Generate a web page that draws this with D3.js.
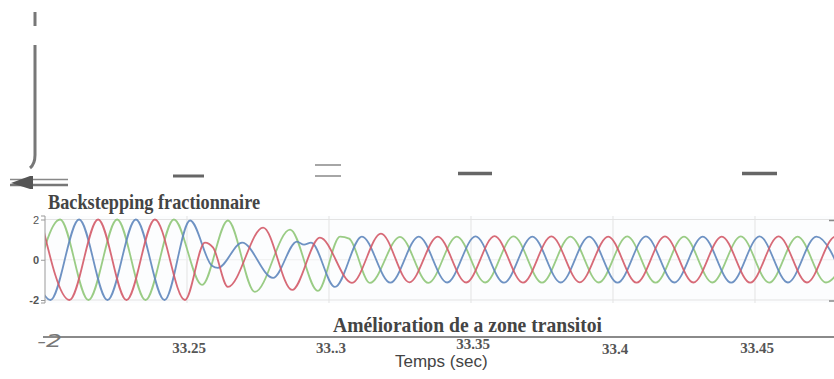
<!DOCTYPE html>
<html>
<head>
<meta charset="utf-8">
<script src="https://cdn.jsdelivr.net/npm/d3@7"></script>
<style>
  body { margin: 0; background: #fff; }
  svg { display: block; }
</style>
</head>
<body>
<svg id="chart" width="834" height="379"></svg>
<script>
// time axis ticks (seconds) and their printed labels, as they appear
var tickValues = [33.25, 33.3, 33.35, 33.4, 33.45]
var tickLabels = ['33.25', '33..3', '33.35', '33.4', '33.45']
var yTicks = [2, 0, -2]
var yTickLabels = ['2', '0', '-2']

// extrema of each phase (time, value)
var redT = [33.1986, 33.2086, 33.2187, 33.2287, 33.2387, 33.2493, 33.2563, 33.2592, 33.2644, 33.2768, 33.2870, 33.2968,
  33.3081, 33.3183, 33.3283, 33.3383, 33.3483, 33.3583, 33.3683, 33.3783, 33.3883, 33.3983, 33.4083, 33.4183,
  33.4283, 33.4383, 33.4483, 33.4583, 33.4683, 33.4783, 33.4883]
var redV = [2.0, -2.0, 2.0, -2.0, 2.0, -2.0, 0.85, 0.6, -1.35, 1.6, -1.5, 1.1,
  -1.15, 1.3, -1.12, 1.15, -1.13, 1.17, -1.14, 1.16, -1.12, 1.15, -1.14, 1.16,
  -1.13, 1.15, -1.14, 1.16, -1.13, 1.15, -1.14]

var greenT = [33.1952, 33.2053, 33.2153, 33.2254, 33.2354, 33.2454, 33.2553, 33.2644, 33.2739, 33.2863, 33.2961, 33.3039,
  33.3071, 33.3144, 33.3250, 33.3350, 33.3450, 33.3550, 33.3650, 33.3750, 33.3850, 33.3950, 33.4050, 33.4150,
  33.4250, 33.4350, 33.4450, 33.4550, 33.4650, 33.4750, 33.4850]
var greenV = [-2.0, 2.0, -2.0, 2.0, -2.0, 2.0, -1.25, 1.95, -1.6, 1.5, -1.55, 1.15,
  1.05, -1.15, 1.14, -1.15, 1.15, -1.13, 1.16, -1.14, 1.15, -1.13, 1.16, -1.14,
  1.15, -1.13, 1.16, -1.14, 1.15, -1.13, 1.15]

var blueT = [33.1919, 33.2019, 33.2120, 33.2220, 33.2320, 33.2421, 33.2511, 33.2588, 33.2609, 33.2694, 33.2803, 33.2887,
  33.2912, 33.2937, 33.3021, 33.3116, 33.3216, 33.3316, 33.3416, 33.3516, 33.3616, 33.3716, 33.3816, 33.3916,
  33.4016, 33.4116, 33.4216, 33.4316, 33.4416, 33.4516, 33.4616, 33.4716, 33.4816]
var blueV = [2.0, -2.0, 2.0, -2.0, 2.0, -2.0, 1.95, -0.3, -0.4, 0.85, -0.9, 0.9,
  0.75, 0.85, -1.35, 1.15, -1.14, 1.15, -1.13, 1.16, -1.14, 1.15, -1.13, 1.15,
  -1.14, 1.16, -1.13, 1.15, -1.14, 1.16, -1.13, 1.15, -1.14]

var series = [
  ['green', greenT, greenV, '#8fc778'],
  ['blue', blueT, blueV, '#5e86bd'],
  ['red', redT, redV, '#d35a68']
]

const plotLeft = 45
const plotRight = 834
const plotTop = 216
const plotBottom = 303

var svg = d3.select('#chart')

var x = d3.scaleLinear().domain([33.2, 33.5]).range([45, 897])
var y = d3.scaleLinear().domain([-2, 2]).range([300, 219.5])

// plot background + grid
svg.append('rect')
  .attr('x', plotLeft).attr('y', plotTop)
  .attr('width', plotRight - plotLeft).attr('height', plotBottom - plotTop)
  .attr('fill', '#fcfdfe')

svg.append('g')
  .selectAll('line')
  .data(tickValues)
  .join('line')
  .attr('x1', d => x(d)).attr('x2', d => x(d))
  .attr('y1', plotTop).attr('y2', plotBottom)
  .attr('stroke', '#e3e3e3')

svg.append('g')
  .selectAll('line')
  .data(yTicks)
  .join('line')
  .attr('x1', plotLeft).attr('x2', plotRight)
  .attr('y1', d => y(d)).attr('y2', d => y(d))
  .attr('stroke', d => d === 0 ? '#eeeeee' : '#e3e3e3')

// signals
svg.append('clipPath').attr('id', 'clip')
  .append('rect')
  .attr('x', plotLeft).attr('y', plotTop - 6)
  .attr('width', plotRight - plotLeft).attr('height', plotBottom - plotTop + 8)

var line = d3.line()
  .x(d => x(d[0]))
  .y(d => y(d[1]))
  .curve(d3.curveMonotoneX)

var lines = svg.append('g').attr('clip-path', 'url(#clip)')
series.forEach(s => {
  lines.append('path')
    .attr('id', s[0])
    .datum(d3.zip(s[1], s[2]))
    .attr('d', line)
    .attr('fill', 'none')
    .attr('stroke', s[3])
    .attr('stroke-width', 1.8)
    .attr('stroke-opacity', 0.9)
})

// left axis
var yAxis = d3.axisLeft(y)
  .tickValues(yTicks)
  .tickSize(4)
  .tickFormat((d, i) => yTickLabels[i])
var gy = svg.append('g')
  .attr('transform', 'translate(' + plotLeft + ',0)')
  .call(yAxis)
gy.select('.domain').attr('stroke', '#999').attr('d', 'M-4,' + plotTop + 'H0V' + plotBottom + 'H-4')
gy.selectAll('.tick line').attr('stroke', '#999')
gy.selectAll('.tick text')
  .attr('x', -6)
  .attr('fill', '#555')
  .style('font-family', 'Liberation Sans, Arial, sans-serif')
  .style('font-size', '11px')
  .style('font-weight', d => d === 2 ? 'normal' : 'bold')

// small marks on the right edge
svg.append('g')
  .selectAll('line')
  .data([2, -2])
  .join('line')
  .attr('x1', 829).attr('x2', 834)
  .attr('y1', d => y(d) + 1).attr('y2', d => y(d) + 1)
  .attr('stroke', '#888').attr('stroke-width', 1.5)

// upper remnants
var deco = svg.append('g').attr('stroke', '#777').attr('fill', 'none').attr('stroke-linecap', 'butt')
deco.append('line').attr('x1', 35).attr('x2', 35).attr('y1', 12).attr('y2', 26).attr('stroke-width', 3)
deco.append('path').attr('d', 'M35,45 L35,155 Q35,164 30,168').attr('stroke-width', 3)
deco.append('line').attr('x1', 10).attr('x2', 68).attr('y1', 179.5).attr('y2', 179.5).attr('stroke-width', 1.5).attr('stroke', '#888')
deco.append('line').attr('x1', 10).attr('x2', 68).attr('y1', 185).attr('y2', 185).attr('stroke-width', 2.5).attr('stroke', '#777')
svg.append('path').attr('d', 'M11,183 L30,176 L33,176 L33,189 L30,189 Z').attr('fill', '#555')

var dashAt = function (t, dx0, dx1, yy, w, col) {
  deco.append('line')
    .attr('x1', x(t) + dx0).attr('x2', x(t) + dx1)
    .attr('y1', yy).attr('y2', yy)
    .attr('stroke-width', w).attr('stroke', col)
}
dashAt(33.25, -14, 17, 176, 3, '#666')
dashAt(33.3, -14, 12, 165, 1.5, '#888')
dashAt(33.3, -14, 12, 176, 1.5, '#888')
dashAt(33.35, -13, 21, 173.5, 3.5, '#666')
dashAt(33.45, -13, 22, 173.5, 3.5, '#666')

// long rule below the plot and the stray "-2"
svg.append('line')
  .attr('x1', 43).attr('x2', 834)
  .attr('y1', 337).attr('y2', 337)
  .attr('stroke', '#8a8a8a').attr('stroke-width', 2)

svg.append('text')
  .attr('x', 37).attr('y', 347)
  .attr('textLength', 25).attr('lengthAdjust', 'spacingAndGlyphs')
  .style('font-family', 'DejaVu Sans, sans-serif')
  .style('font-style', 'italic')
  .style('font-size', '17px')
  .attr('fill', '#777')
  .text('-2')

// titles
svg.append('text')
  .attr('x', 48).attr('y', 209)
  .attr('textLength', 212).attr('lengthAdjust', 'spacingAndGlyphs')
  .style('font-family', 'Liberation Serif, Times New Roman, serif')
  .style('font-weight', 'bold')
  .style('font-size', '22px')
  .attr('fill', '#444')
  .text('Backstepping fractionnaire')

svg.append('text')
  .attr('x', 333).attr('y', 332)
  .attr('textLength', 269).attr('lengthAdjust', 'spacingAndGlyphs')
  .style('font-family', 'Liberation Serif, Times New Roman, serif')
  .style('font-weight', 'bold')
  .style('font-size', '21px')
  .attr('fill', '#444')
  .text('Amélioration de  a zone transitoi')

// time tick labels
var labelDy = { '33.35': -4, '33.4': 1, '33.45': 0 }
svg.append('g')
  .selectAll('text')
  .data(tickValues)
  .join('text')
  .attr('x', d => x(d) + 2)
  .attr('y', (d, i) => 353 + (labelDy[tickLabels[i]] || 0))
  .attr('text-anchor', 'middle')
  .style('font-family', 'Liberation Serif, Times New Roman, serif')
  .style('font-weight', 'bold')
  .style('font-size', '15px')
  .attr('fill', '#555')
  .text((d, i) => tickLabels[i])

svg.append('text')
  .attr('x', 395).attr('y', 367)
  .style('font-family', 'Liberation Sans, Arial, sans-serif')
  .style('font-size', '17px')
  .attr('fill', '#444')
  .text('Temps (sec)')
</script>
</body>
</html>
